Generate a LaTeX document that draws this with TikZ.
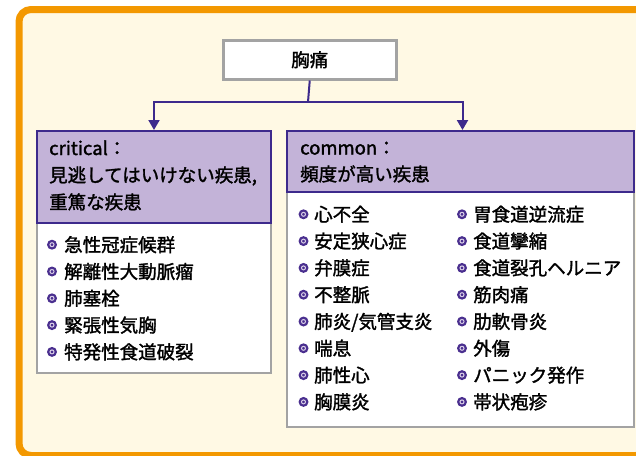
\documentclass[tikz,border=0pt]{standalone}
\usepackage{fontspec}
\setmainfont{Noto Sans CJK JP}[FakeBold=1.6]
\usetikzlibrary{arrows.meta}
\definecolor{cream}{HTML}{FFF9E4}
\definecolor{frameorange}{HTML}{F39800}
\definecolor{darkpurple}{HTML}{3D2A8C}
\definecolor{lavender}{HTML}{C3B3D8}
\definecolor{boxgray}{HTML}{A3A3A3}
\definecolor{bulletpurple}{HTML}{4A2F8F}
\tikzset{
  hdr/.style={draw=darkpurple, line width=2pt, fill=lavender, inner sep=0pt, anchor=north west},
  bodybox/.style={draw=boxgray, line width=2pt, fill=white, inner sep=0pt, anchor=north west},
  topbox/.style={draw=boxgray, line width=2.5pt, fill=white, inner sep=0pt, anchor=north west},
  txt/.style={inner sep=0pt, anchor=base west, font=\fontsize{18.5}{27}\selectfont},
  conn/.style={draw=darkpurple, line width=2pt},
  arr/.style={conn, -{Triangle[length=10pt,width=11pt]}},
  dotb/.pic={
    \fill[bulletpurple] (0,0) circle[radius=5pt];
    \draw[lavender!60!white, line width=1pt] (0,0) circle[radius=2pt];
  }
}
\begin{document}
\begin{tikzpicture}[x=1pt,y=-1pt]
\useasboundingbox (0,0) rectangle (636,455);
\begin{scope}
\clip (0,0) rectangle (636,455);
\draw[frameorange, fill=cream, line width=7pt, rounded corners=12pt] (19,9.5) rectangle (648,455.5);
\end{scope}

% top node
\node[topbox, minimum width=173pt, minimum height=39pt] (top) at (222,39) {};
\node[txt, anchor=center] (toptxt) at (top.center) {胸痛};

% left box
\node[bodybox, minimum width=234pt, minimum height=150pt] (lbody) at (36,222) {};
\node[hdr, minimum width=234pt, minimum height=92pt] (lhead) at (36,130) {};
% right box
\node[bodybox, minimum width=347pt, minimum height=235pt] (rbody) at (286,191) {};
\node[hdr, minimum width=347pt, minimum height=61pt] (rhead) at (286,130) {};

% connectors
\coordinate (jn) at (308,102);
\draw[conn] (top.south) -- (jn);
\draw[arr] (jn) -| (lhead.north);
\draw[arr] (jn) -| ([xshift=2pt]rhead.north);

% left header text
\node[txt] (lh1) at (49,155) {critical：};
\node[txt] (lh2) at (49,182) {見逃してはいけない疾患,};
\node[txt] (lh3) at (49,209) {重篤な疾患};

% right header text
\node[txt] (rh1) at (300,154.5) {common：};
\node[txt] (rh2) at (300,181) {頻度が高い疾患};

% left items
\foreach \t [count=\i from 0] in {急性冠症候群,解離性大動脈瘤,肺塞栓,緊張性気胸,特発性食道破裂}{
  \pic at (52,{244.7+26.8*\i}) {dotb};
  \node[txt] (li\i) at (64,{251.7+26.8*\i}) {\t};
}
% right items col 1
\foreach \t [count=\i from 0] in {心不全,安定狭心症,弁膜症,不整脈,肺炎/気管支炎,喘息,肺性心,胸膜炎}{
  \pic at (303.5,{214.3+26.8*\i}) {dotb};
  \node[txt] (ra\i) at (314,{221.3+26.8*\i}) {\t};
}
% right items col 2
\foreach \t [count=\i from 0] in {胃食道逆流症,食道攣縮,食道裂孔ヘルニア,筋肉痛,肋軟骨炎,外傷,パニック発作,帯状疱疹}{
  \pic at (462,{214.3+26.8*\i}) {dotb};
  \node[txt] (rb\i) at (473,{221.3+26.8*\i}) {\t};
}
\end{tikzpicture}
\end{document}
